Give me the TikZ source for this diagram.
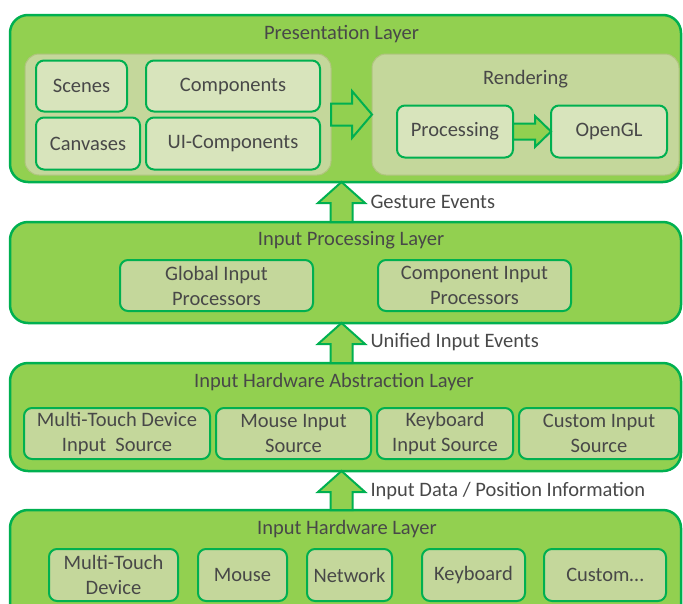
\documentclass[tikz,border=0pt]{standalone}
\usepackage{fontspec}
\setmainfont{Carlito}
\usetikzlibrary{calc}
\definecolor{layergreen}{RGB}{146,208,80}
\definecolor{edgegreen}{RGB}{0,176,80}
\definecolor{groupfill}{RGB}{196,215,155}
\definecolor{groupedge}{RGB}{176,196,126}
\definecolor{boxfill}{RGB}{216,228,188}
\definecolor{txtgray}{RGB}{72,72,72}
% block arrow pointing up, from #1 (bottom) to #2 (top)
\newcommand{\fatup}[2]{%
  \draw[fatarrow] let \p1=#1, \p2=#2 in
    (\x1-11pt,\y1) -- (\x1-11pt,\y2-21pt) -- (\x1-23.5pt,\y2-21pt) -- (\x1,\y2)
    -- (\x1+23.5pt,\y2-21pt) -- (\x1+11pt,\y2-21pt) -- (\x1+11pt,\y1) -- cycle;}
% block arrow pointing right: from, to, shaft half, head half, head length
\newcommand{\fatright}[5]{%
  \draw[fatarrow] let \p1=#1, \p2=#2 in
    (\x1,\y1-#3pt) -- (\x2-#5pt,\y1-#3pt) -- (\x2-#5pt,\y1-#4pt) -- (\x2,\y1)
    -- (\x2-#5pt,\y1+#4pt) -- (\x2-#5pt,\y1+#3pt) -- (\x1,\y1+#3pt) -- cycle;}
\begin{document}
\begin{tikzpicture}[x=1pt,y=-1pt,
  every node/.style={font=\fontsize{20.5}{25}\selectfont, text=txtgray},
  layer/.style={draw=edgegreen, fill=layergreen, line width=2.5pt, rounded corners=18pt, minimum width=671pt, outer sep=0pt},
  group/.style={draw=groupedge, fill=groupfill, line width=1pt, rounded corners=14pt, outer sep=0pt},
  item/.style={draw=edgegreen, fill=boxfill, line width=2pt, rounded corners=8pt, align=center, minimum height=51pt, outer sep=0pt},
  hwitem/.style={item, fill=groupfill},
  fatarrow/.style={draw=edgegreen, fill=layergreen, line width=2pt, line join=miter}]
\useasboundingbox (0,0) rectangle (683,603);
\clip (0,0) rectangle (683,603);
% layers
\node[layer, minimum height=167pt] (pres) at (345.5,98.5) {};
\node[layer, minimum height=101pt] (ipl) at (345.5,272.5) {};
\node[layer, minimum height=108pt] (ihal) at (345.5,417) {};
\node[layer, minimum height=140pt] (ihl) at (345.5,580) {};
\node (prestitle) at (341.5,34) {Presentation Layer};
\node (ipltitle) at (351,240) {Input Processing Layer};
\node (ihaltitle) at (334,382) {Input Hardware Abstraction Layer};
\node (ihltitle) at (347,529) {Input Hardware Layer};
% presentation layer
\node[group, minimum width=306pt, minimum height=121pt] (scenegrp) at (178,114.5) {};
\node[group, minimum width=307pt, minimum height=121pt] (rendergrp) at (525.5,114.5) {};
\node (rendertitle) at (525.5,79) {Rendering};
\node[item, minimum width=91pt] (scenes) at (81.5,86) {Scenes};
\node[item, minimum width=174pt] (components) at (233,86) {Components};
\node[item, minimum width=104pt, minimum height=52pt] (canvases) at (88,143.5) {Canvases};
\node[item, minimum width=174pt, minimum height=52pt] (uicomponents) at (233,143.5) {UI-Components};
\node[item, minimum width=116pt, minimum height=52pt] (processing) at (455,131.5) {Processing};
\node[item, minimum width=116pt, minimum height=52pt] (opengl) at (609,131.5) {OpenGL};
\fatright{(scenegrp.east)}{(rendergrp.west)}{11}{23.5}{20}
\fatright{(processing.east)}{(opengl.west)}{8}{15.5}{16}
% input processing layer
\node[hwitem, minimum width=193pt] (globalproc) at (216.5,285.5) {Global Input\\Processors};
\node[hwitem, minimum width=193pt] (compproc) at (474.5,285.5) {Component Input\\Processors};
% input hardware abstraction layer
\node[hwitem, minimum width=186pt] (mtsrc) at (117,433.5) {Multi-Touch Device\\Input\ \ Source};
\node[hwitem, minimum width=155pt] (mousesrc) at (293.5,433.5) {Mouse Input\\Source};
\node[hwitem, minimum width=136pt] (kbsrc) at (445,433.5) {Keyboard\\Input Source};
\node[hwitem, minimum width=160pt] (customsrc) at (599,433.5) {Custom Input\\Source};
% input hardware layer
\node[hwitem, minimum width=129pt, minimum height=52pt] (mtdev) at (113.5,575) {Multi-Touch\\Device};
\node[hwitem, minimum width=89pt, minimum height=52pt] (mouse) at (242.5,575) {Mouse};
\node[hwitem, minimum width=85pt, minimum height=52pt] (network) at (349.5,575) {Network};
\node[hwitem, minimum width=103pt, minimum height=52pt] (keyboard) at (473.5,575) {Keyboard};
\node[hwitem, minimum width=122pt, minimum height=52pt] (custom) at (605,575) {Custom…};
% arrows between layers
\fatup{($(ipl.north)+(-4,0)$)}{($(pres.south)+(-4,0)$)}
\fatup{($(ihal.north)+(-4,0)$)}{($(ipl.south)+(-4,0)$)}
\fatup{($(ihl.north)+(-4,0)$)}{($(ihal.south)+(-4,0)$)}
\node[anchor=west] (gesturelbl) at (367,201.5) {Gesture Events};
\node[anchor=west] (unifiedlbl) at (367,342.5) {Unified Input Events};
\node[anchor=west] (inputdatalbl) at (367,491.5) {Input Data / Position Information};
\end{tikzpicture}
\end{document}
